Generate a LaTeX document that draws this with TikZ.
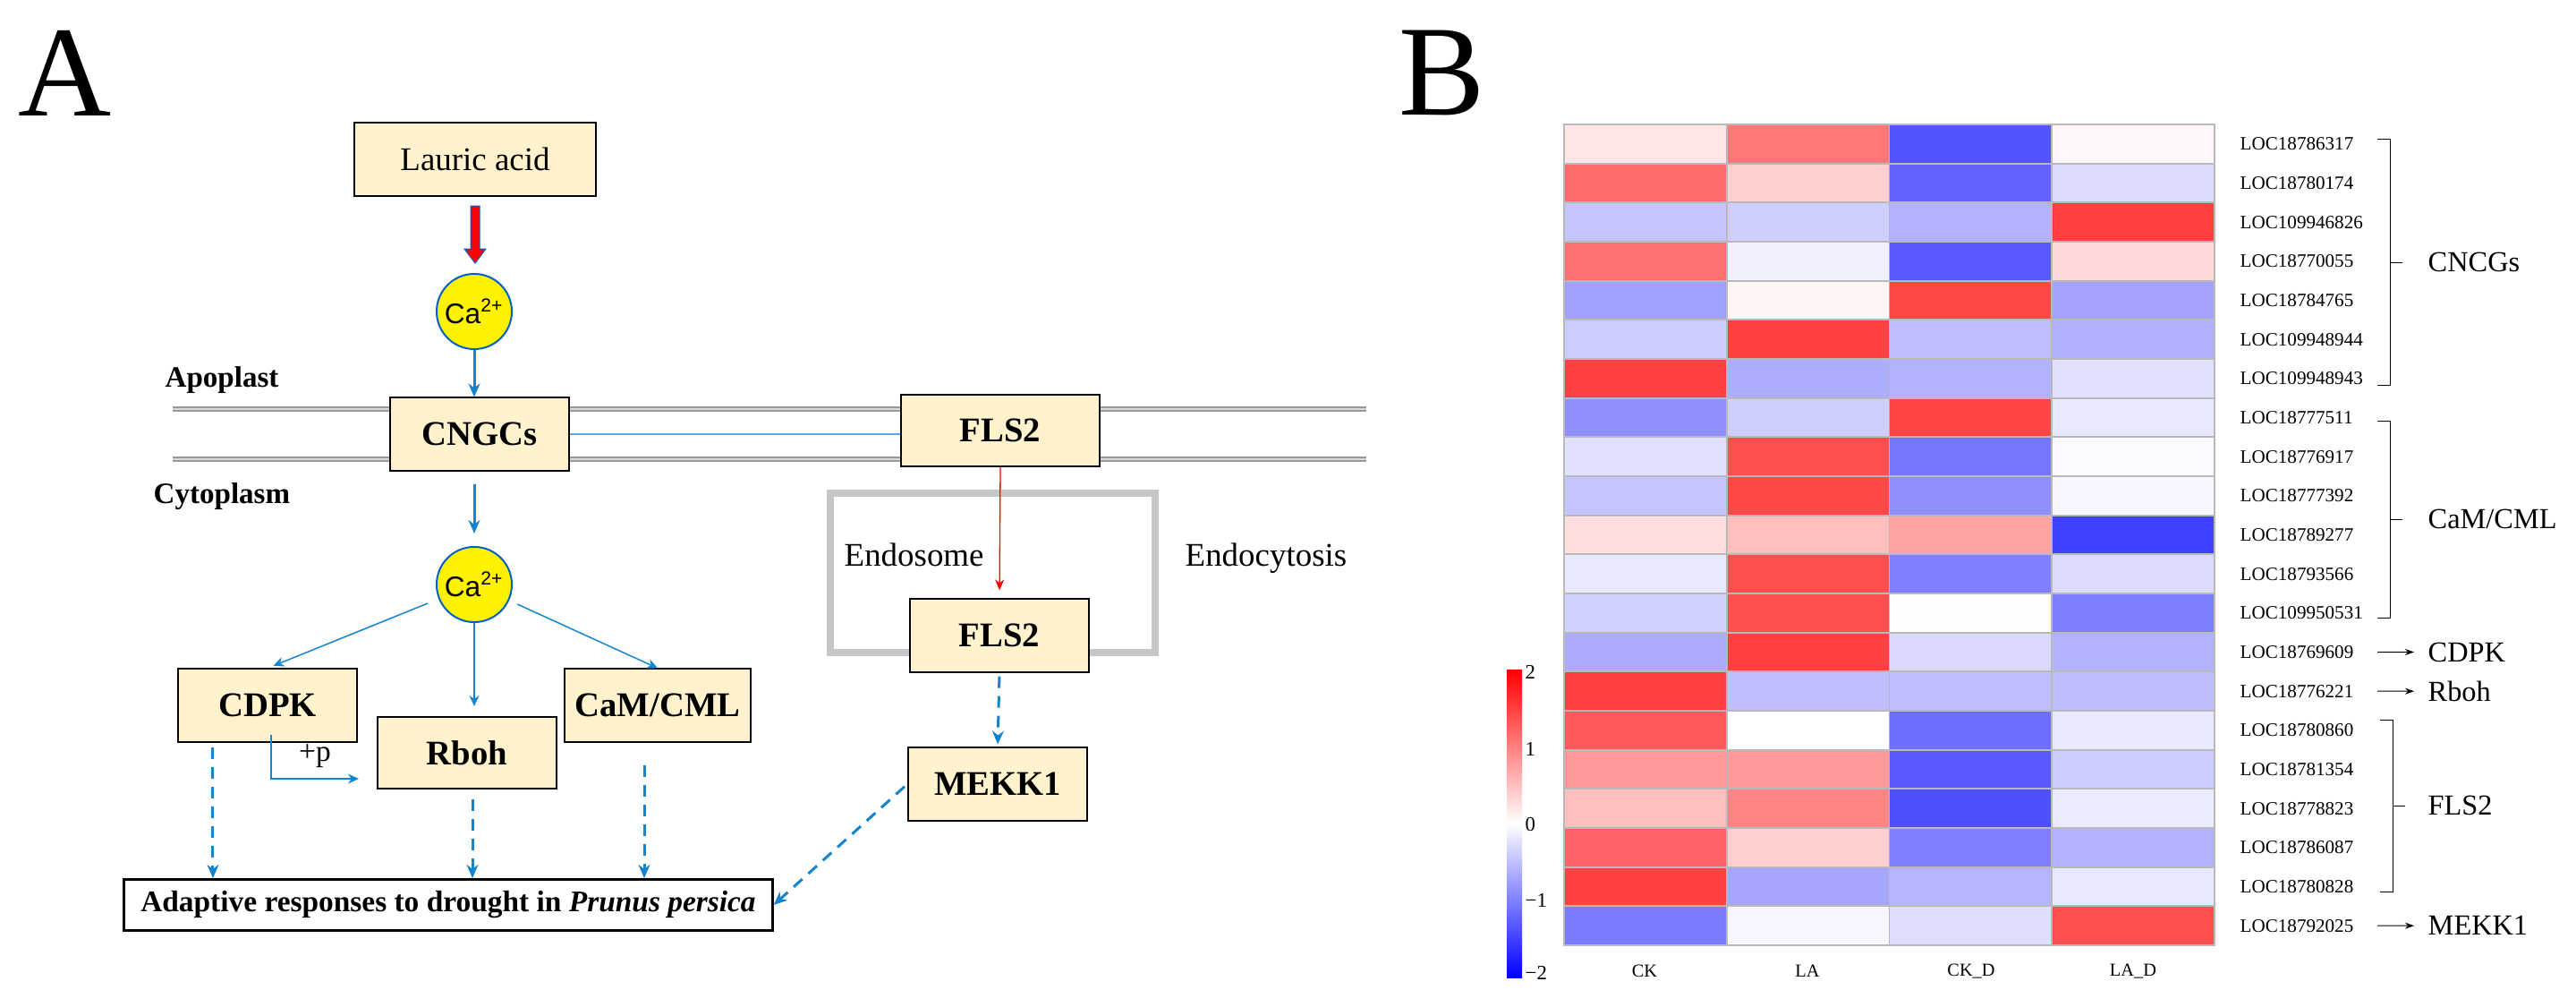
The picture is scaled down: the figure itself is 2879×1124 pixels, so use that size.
\documentclass[tikz,border=0pt]{standalone}
\usepackage{fontspec}
\setmainfont{Liberation Serif}
\newfontfamily\arialfont{Liberation Sans}
\usepackage{tikz}
\usetikzlibrary{arrows.meta,calc}
\definecolor{boxfill}{RGB}{255,242,204}
\definecolor{arrowblue}{RGB}{20,132,206}
\definecolor{ionblue}{RGB}{0,96,200}
\definecolor{linkblue}{RGB}{95,168,226}
\tikzset{
  box/.style={draw, line width=0.02cm, fill=boxfill, minimum width=2cm, minimum height=0.81cm,
    font=\fontsize{11}{13}\selectfont\bfseries},
  ion/.style={circle, draw=ionblue, line width=0.02cm, fill=yellow, minimum size=0.84cm, inner sep=0pt,
    font=\arialfont\fontsize{9}{10}\selectfont},
  flow/.style={arrowblue, line width=0.015cm, -{Stealth[length=0.12cm, width=0.11cm]}},
  bigflow/.style={flow, line width=0.03cm, -{Stealth[length=0.15cm, width=0.13cm]}},
  dashflow/.style={arrowblue, line width=0.03cm, dash pattern=on 0.13cm off 0.09cm,
    -{Stealth[length=0.15cm, width=0.13cm]}},
  membrane/.style={draw=gray!80, double=gray!30, double distance=0.025cm, line width=0.015cm},
  region/.style={anchor=base west, inner sep=0pt, font=\fontsize{9.4}{11}\selectfont\bfseries},
  plaintext/.style={anchor=base west, inner sep=0pt, font=\fontsize{10.5}{12}\selectfont},
  cell/.style={draw=gray!55, line width=0.018cm},
  loc/.style={anchor=west, inner sep=0pt, font=\fontsize{6}{7}\selectfont},
  genegroup/.style={anchor=west, inner sep=0pt, font=\fontsize{9.2}{11}\selectfont},
  pointer/.style={line width=0.01cm, -{Stealth[length=0.1cm, width=0.07cm]}},
}

\begin{document}
\begin{tikzpicture}[x=0.01cm, y=-0.01cm]
    \useasboundingbox (0,0) rectangle (2879,1124);
    % panel letters
    \node[anchor=base west, inner sep=0pt, font=\fontsize{41}{41}\selectfont] (pa) at (20,129) {A};
    \node[anchor=base west, inner sep=0pt, font=\fontsize{41}{41}\selectfont] (pb) at (1563,128) {B};

    % A: membrane and endosome
    \draw[membrane] (193,457) -- (1527,457);
    \draw[membrane] (193,513) -- (1527,513);
    \draw[gray!45, line width=0.075cm] (928,551) rectangle (1291,729);
    \node[region] (apo) at (184,432) {Apoplast};
    \node[region] (cyto) at (171,562) {Cytoplasm};
    \node[plaintext] (endo) at (943,632) {Endosome};
    \node[plaintext] (endocyt) at (1324,632) {Endocytosis};

    \node[box, minimum width=2.69cm, minimum height=0.82cm, font=\fontsize{10.5}{12}\selectfont] (lauric) at (531,178) {Lauric acid};
    \node[ion] (ca1) at (530,348) {Ca\textsuperscript{2+}};
    \node[box] (cngc) at (536,485) {CNGCs};
    \node[box, minimum width=2.21cm, minimum height=0.8cm] (fls2a) at (1118,481) {FLS2};
    \node[ion] (ca2) at (530,653) {Ca\textsuperscript{2+}};
    \node[box] (cdpk) at (299,788) {CDPK};
    \node[box, minimum height=0.8cm] (rboh) at (522,841) {Rboh};
    \node[box] (caml) at (735,788) {CaM/CML};
    \node[box] (fls2b) at (1117,710) {FLS2};
    \node[box] (mekk) at (1115,876) {MEKK1};
    \node[box, fill=white, line width=0.03cm, minimum width=7.24cm, minimum height=0.57cm,
      font=\fontsize{9.5}{11}\selectfont\bfseries] (adapt) at (501,1011)
      {Adaptive responses to drought in \textit{Prunus persica}};

    % arrows
    \draw[fill=red, draw=ionblue, line width=0.01cm] ($(lauric.south)+(-5,10)$) -- ++(10,0) -- ++(0,48)
      -- ++(7,0) -- ($(lauric.south)+(0,74)$) -- ($(lauric.south)+(-12,58)$) -- ++(7,0) -- cycle;
    \draw[bigflow] (ca1.south) -- (ca1.south |- cngc.north);
    \draw[bigflow, shorten <=0.14cm, shorten >=0.14cm] (cngc.south -| ca2) -- (ca2.north);
    \draw[linkblue, line width=0.012cm] (cngc.east) -- (fls2a.west |- cngc.east);
    \draw[flow, shorten <=0.13cm, shorten >=0.07cm] (ca2) -- (cdpk.north);
    \draw[flow, shorten >=0.11cm] (ca2.south) -- (ca2.south |- rboh.north);
    \draw[flow, shorten <=0.1cm] (ca2) -- (caml.north);
    \draw[flow] ([xshift=0.04cm, yshift=0.09cm]cdpk.south) |- ([shift={(-0.2cm,-0.29cm)}]rboh.west)
      node[pos=0.75, above, text=black, font=\fontsize{9.5}{10}\selectfont] (phos) {+p};
    \draw[red, line width=0.013cm, -{Stealth[length=0.12cm, width=0.1cm]}, shorten >=0.09cm] (fls2a.south) -- (fls2b.north);
    \draw[dashflow, shorten <=0.05cm] ([xshift=-0.61cm]cdpk.south) -- ([xshift=-0.61cm]cdpk.south |- adapt.north);
    \draw[dashflow, shorten <=0.11cm] ([xshift=0.06cm]rboh.south) -- ([xshift=0.06cm]rboh.south |- adapt.north);
    \draw[dashflow, shorten <=0.25cm] ([xshift=-0.15cm]caml.south) -- ([xshift=-0.15cm]caml.south |- adapt.north);
    \draw[dashflow, shorten <=0.04cm, shorten >=0.03cm] (fls2b.south) -- (mekk.north);
    \draw[dashflow, shorten <=0.04cm] (mekk.west) -- (adapt.east);

    % B: heatmap
    \foreach \name/\va/\vb/\vc/\vd [count=\i] in {
        LOC18786317/10/53/-67/3, LOC18780174/58/19/-61/-14, LOC109946826/-23/-19/-30/75,
        LOC18770055/56/-6/-65/15, LOC18784765/-37/4/72/-36, LOC109948944/-20/75/-25/-31,
        LOC109948943/75/-32/-30/-12, LOC18777511/-44/-19/73/-9, LOC18776917/-12/69/-54/-2,
        LOC18777392/-23/72/-44/-3, LOC18789277/13/25/36/-75, LOC18793566/-9/69/-50/-14,
        LOC109950531/-18/69/1/-51, LOC18769609/-33/75/-15/-30, LOC18776221/75/-25/-25/-26,
        LOC18780860/65/0/-57/-9, LOC18781354/40/40/-65/-20, LOC18778823/25/48/-69/-8,
        LOC18786087/61/19/-50/-30, LOC18780828/75/-35/-29/-9, LOC18792025/-52/-3/-13/69}{
      \foreach \val [count=\j] in {\va,\vb,\vc,\vd}{
        \pgfmathtruncatemacro\pc{abs(\val)}
        \ifnum\val<0 \colorlet{cellc}{blue!\pc!white}\else\colorlet{cellc}{red!\pc!white}\fi
        \filldraw[cell, fill=cellc] ({1748+(\j-1)*181.75},{139+(\i-1)*43.667}) rectangle ++(181.75,43.667);
      }
      \node[loc] (loc\i) at (2503,{139+(\i-0.5)*43.667}) {\name};
    }
    \foreach \cond/\cx in {CK/1838, LA/2020, CK\_D/2203, LA\_D/2384}
      \node[font=\fontsize{5.8}{7}\selectfont] at (\cx,1085) {\cond};

    % colour key
    \shade[top color=red, bottom color=blue, middle color=white] (1684,748) rectangle (1701,1092);
    \foreach \lab/\ly in {2/751, 1/837, 0/921, −1/1006, −2/1087}
      \node[anchor=west, inner sep=0pt, font=\fontsize{6.5}{7}\selectfont] at (1704,\ly) {\lab};

    % gene groups
    \draw[line width=0.01cm] (2657,155) -- (2671,155) -- (2671,430) -- (2657,430) (2671,293) -- (2685,293);
    \draw[line width=0.01cm] (2657,470) -- (2671,470) -- (2671,690) -- (2657,690) (2671,580) -- (2685,580);
    \draw[line width=0.01cm] (2660,804) -- (2674,804) -- (2674,996) -- (2660,996) (2674,900) -- (2688,900);
    \node[genegroup] (gcngc) at (2713,293) {CNCGs};
    \node[genegroup] (gcam) at (2713,580) {CaM/CML};
    \node[genegroup] (gcdpk) at (2713,728.5) {CDPK};
    \node[genegroup] (grboh) at (2713,772.2) {Rboh};
    \node[genegroup] (gfls) at (2713,900) {FLS2};
    \node[genegroup] (gmekk) at (2713,1034.2) {MEKK1};
    \draw[pointer, shorten <=0.26cm, shorten >=0.15cm] (loc14.east) -- (gcdpk.west);
    \draw[pointer, shorten <=0.26cm, shorten >=0.15cm] (loc15.east) -- (grboh.west);
    \draw[pointer, shorten <=0.26cm, shorten >=0.15cm] (loc21.east) -- (gmekk.west);
\end{tikzpicture}
\end{document}
